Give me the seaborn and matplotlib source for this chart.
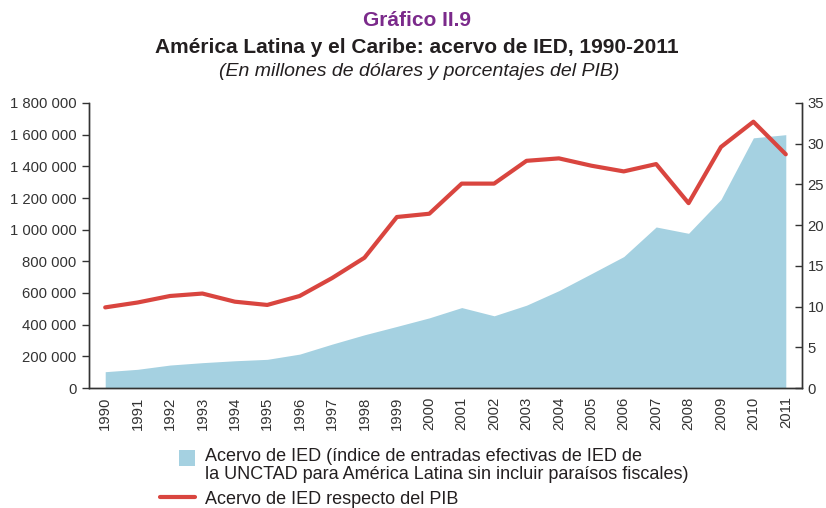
import numpy as np
import pandas as pd
import matplotlib
matplotlib.use("Agg")
import matplotlib.pyplot as plt
import matplotlib.patches as mpatches
from matplotlib.lines import Line2D
from matplotlib.legend_handler import HandlerPatch
import seaborn as sns

years = [str(y) for y in range(1990, 2012)]
acervo = [103000, 118000, 145000, 160000, 172000, 181000, 214000, 277000, 336000,
          389000, 443000, 508000, 456000, 523000, 615000, 722000, 830000, 1017000,
          977000, 1191000, 1580000, 1600000]
pct_pib = [9.9, 10.5, 11.3, 11.6, 10.6, 10.2, 11.3, 13.5, 16.0, 21.0, 21.4, 25.1,
           25.1, 27.9, 28.2, 27.3, 26.6, 27.5, 22.7, 29.6, 32.7, 28.7]
left_ticks = [0, 200000, 400000, 600000, 800000, 1000000, 1200000, 1400000, 1600000, 1800000]
right_ticks = [0, 5, 10, 15, 20, 25, 30, 35]

label_area = ("Acervo de IED (índice de entradas efectivas de IED de\n"
              "la UNCTAD para América Latina sin incluir paraísos fiscales)")
label_line = "Acervo de IED respecto del PIB"

sns.set_theme(style="white")
plt.rcParams['font.family'] = ['Liberation Sans', 'DejaVu Sans']

area_color = "#a5d1e1"
line_color = "#d9453f"
ink = "#333333"
dark = "#231f20"

df = pd.DataFrame({"year": years, "acervo": acervo, "pct": pct_pib})
df["x"] = np.arange(len(years))

fig = plt.figure(figsize=(8.26, 5.08), dpi=100)
ax = fig.add_axes([89 / 826, 1 - 388 / 508, (802 - 89) / 826, (388 - 103) / 508])
ax2 = ax.twinx()

ax.fill_between(df["x"], 0, df["acervo"], color=area_color, linewidth=0, zorder=1)
sns.lineplot(data=df, x="x", y="pct", ax=ax2, color=line_color, linewidth=3,
             legend=False, zorder=3)

ax.set_xlim(-0.5, len(years) - 0.5)
ax.set_ylim(0, 1800000)
ax2.set_ylim(0, 35)

ax.set_yticks(left_ticks)
ax.set_yticklabels([f"{v:,}".replace(",", " ") for v in left_ticks])
ax2.set_yticks(right_ticks)
ax2.set_yticklabels([str(v) for v in right_ticks])

ax.set_xticks(np.arange(-0.5, len(years), 1.0))
ax.set_xticklabels([])
ax.set_xticks(df["x"], minor=True)
ax.set_xticklabels(years, minor=True, rotation=90)
ax.tick_params(axis="x", which="major", direction="out", length=6, width=1, color=ink)
ax.tick_params(axis="x", which="minor", length=0, pad=6, labelsize=10.7, labelcolor=ink)
ax.tick_params(axis="y", direction="out", length=5, width=1, color=ink,
               labelsize=10.7, labelcolor=ink, pad=4, left=True)
ax2.tick_params(axis="y", direction="in", length=5, width=1, color=ink,
                labelsize=10.7, labelcolor=ink, pad=4, right=True)

ax.set_xlabel("")
ax.set_ylabel("")
ax2.set_xlabel("")
ax2.set_ylabel("")
for a in (ax, ax2):
    a.grid(False)
    a.spines["top"].set_visible(False)
    for s in ("left", "right", "bottom"):
        a.spines[s].set_color(ink)
        a.spines[s].set_linewidth(1)

fig.text(417 / 826, 1 - 20 / 508, "Gráfico II.9", ha="center", va="center",
         fontsize=15, fontweight="bold", color="#7b2a8b")
fig.text(417 / 826, 1 - 47 / 508, "América Latina y el Caribe: acervo de IED, 1990-2011",
         ha="center", va="center", fontsize=15, fontweight="bold", color=dark)
fig.text(419 / 826, 1 - 72 / 508, "(En millones de dólares y porcentajes del PIB)",
         ha="center", va="center", fontsize=14, style="italic", color=dark)


class SquareHandler(HandlerPatch):
    def create_artists(self, legend, orig_handle, xdescent, ydescent, width, height,
                       fontsize, trans):
        size = height * 1.27
        cy = -ydescent + height / 2 + fontsize * 0.42
        p = mpatches.Rectangle((width - size - xdescent, cy - size / 2),
                               size, size, facecolor=area_color, edgecolor="none",
                               transform=trans)
        return [p]


h_area = mpatches.Patch(color=area_color, label=label_area)
h_line = Line2D([], [], color=line_color, linewidth=3, label=label_line)
leg = fig.legend(handles=[h_area, h_line], labels=[label_area, label_line],
                 loc="upper left", bbox_to_anchor=(160 / 826, 1 - 448 / 508),
                 frameon=False, fontsize=13, handlelength=1.94, handletextpad=0.55,
                 labelspacing=0.45, borderaxespad=0, borderpad=0,
                 handler_map={mpatches.Patch: SquareHandler()})
for t in leg.get_texts():
    t.set_color(dark)
    t.set_linespacing(1.05)

fig.savefig("out.png", dpi=100)
